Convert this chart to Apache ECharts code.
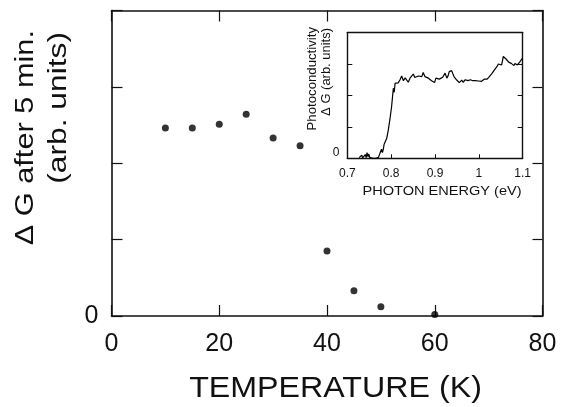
<!DOCTYPE html>
<html>
<head>
<meta charset="utf-8">
<script src="https://cdn.jsdelivr.net/npm/echarts@6/dist/echarts.min.js"></script>
<style>
html,body{margin:0;padding:0;background:#fff;}
#c{width:562px;height:407px;}
</style>
</head>
<body>
<div id="c"></div>
<script>
// Main plot data
const temperature = [10, 15, 20, 25, 30, 35, 40, 45, 50, 60];
const deltaG = [2.46, 2.46, 2.51, 2.64, 2.33, 2.23, 0.85, 0.33, 0.12, 0.02];
const tempTicks = [0, 20, 40, 60, 80];

// Inset data
const photonEnergy = [0.727,0.730,0.733,0.735,0.738,0.741,0.743,0.745,0.747,0.749,0.751,0.753,0.755,0.758,0.765,0.771,0.7745,0.778,0.780,0.782,0.784,0.786,0.788,0.790,0.7935,0.797,0.801,0.805,0.807,0.809,0.8125,0.816,0.820,0.824,0.828,0.832,0.835,0.839,0.843,0.847,0.8505,0.854,0.858,0.862,0.866,0.870,0.873,0.877,0.881,0.885,0.889,0.892,0.896,0.899,0.902,0.906,0.910,0.914,0.9175,0.920,0.923,0.927,0.930,0.9325,0.938,0.941,0.9433,0.9495,0.952,0.9554,0.958,0.961,0.964,0.966,0.969,0.9723,0.975,0.978,0.981,0.9837,0.986,0.989,0.992,0.995,0.999,1.0026,1.006,1.010,1.013,1.016,1.019,1.0215,1.024,1.027,1.030,1.033,1.036,1.039,1.042,1.0444,1.048,1.052,1.0558,1.0596,1.062,1.065,1.068,1.071,1.074,1.077,1.080,1.0824,1.085,1.0877,1.091,1.094,1.097,1.099];
const photoconductivity = [0.02,0.00,0.10,0.01,0.03,0.12,0.02,0.18,0.05,0.14,0.03,0.09,0.01,0.00,0.00,0.03,0.16,0.29,0.18,0.28,0.45,0.42,0.50,0.64,0.90,1.22,1.64,2.23,2.10,2.39,2.44,2.40,2.49,2.62,2.47,2.56,2.55,2.42,2.55,2.50,2.68,2.57,2.58,2.62,2.65,2.60,2.73,2.60,2.62,2.55,2.60,2.47,2.44,2.41,2.55,2.50,2.52,2.48,2.58,2.54,2.71,2.55,2.63,2.76,2.79,2.68,2.60,2.49,2.45,2.41,2.47,2.49,2.42,2.41,2.50,2.55,2.47,2.44,2.50,2.55,2.47,2.44,2.47,2.49,2.46,2.47,2.45,2.49,2.52,2.58,2.52,2.55,2.60,2.65,2.70,2.76,2.82,2.87,2.93,3.00,3.04,2.97,3.24,3.18,3.16,3.11,3.06,3.00,3.02,2.97,2.95,3.02,2.99,2.97,3.03,3.08,3.12,3.18];
const energyTicks = ['0.7', '0.8', '0.9', '1', '1.1'];

const FONT = 'Liberation Sans, Arial, Helvetica, sans-serif';
const ink = '#111';

const chart = echarts.init(document.getElementById('c'), null, {renderer: 'canvas'});

function frameAxis(base) {
  return Object.assign({
    axisLine: {show: true, onZero: false, lineStyle: {color: ink, width: 1.6}},
    splitLine: {show: false}
  }, base);
}

const option = {
  backgroundColor: '#fff',
  animation: false,
  grid: [
    {left: 111.5, top: 10.5, width: 431, height: 305.5},
    {left: 347.3, top: 32.6, width: 175.4, height: 125.7}
  ],
  xAxis: [
    frameAxis({gridIndex: 0, type: 'value', min: 0, max: 80, interval: 20, position: 'bottom',
      axisTick: {show: true, inside: true, length: 11, lineStyle: {color: ink, width: 1.2}},
      axisLabel: {show: true, margin: 16, fontSize: 25, color: ink, fontFamily: FONT,
        formatter: v => tempTicks.includes(v) ? String(v) : ''}}),
    frameAxis({gridIndex: 0, type: 'value', min: 0, max: 80, interval: 20, position: 'top',
      axisTick: {show: true, inside: true, length: 11, lineStyle: {color: ink, width: 1.2}},
      axisLabel: {show: false}}),
    frameAxis({gridIndex: 1, type: 'value', min: 0.7, max: 1.1, interval: 0.1, position: 'bottom',
      axisLine: {show: true, onZero: false, lineStyle: {color: ink, width: 1.4}},
      axisTick: {show: true, inside: true, length: 4, lineStyle: {color: ink, width: 1}},
      axisLabel: {show: true, margin: 9, fontSize: 12, color: ink, fontFamily: FONT,
        formatter: v => { const s = String(+(+v).toFixed(1)); return energyTicks.includes(s) ? s : ''; }}}),
    frameAxis({gridIndex: 1, type: 'value', min: 0.7, max: 1.1, interval: 0.1, position: 'top',
      axisLine: {show: true, onZero: false, lineStyle: {color: ink, width: 1.4}},
      axisTick: {show: false}, axisLabel: {show: false}})
  ],
  yAxis: [
    frameAxis({gridIndex: 0, type: 'value', min: 0, max: 4, interval: 1, position: 'left',
      axisTick: {show: true, inside: true, length: 11, lineStyle: {color: ink, width: 1.2}},
      axisLabel: {show: true, margin: 13, fontSize: 25, color: ink, fontFamily: FONT,
        formatter: v => v === 0 ? '0' : ''}}),
    frameAxis({gridIndex: 0, type: 'value', min: 0, max: 4, interval: 1, position: 'right',
      axisTick: {show: true, inside: true, length: 10, lineStyle: {color: ink, width: 1.2}},
      axisLabel: {show: false}}),
    frameAxis({gridIndex: 1, type: 'value', min: 0, max: 4, interval: 1, position: 'left',
      axisLine: {show: true, onZero: false, lineStyle: {color: ink, width: 1.4}},
      axisTick: {show: true, inside: true, length: 5, lineStyle: {color: ink, width: 1}},
      axisLabel: {show: true, margin: 8, fontSize: 12, color: ink, fontFamily: FONT, verticalAlign: 'bottom',
        formatter: v => v === 0 ? '0' : ''}}),
    frameAxis({gridIndex: 1, type: 'value', min: 0, max: 4, interval: 1, position: 'right',
      axisLine: {show: true, onZero: false, lineStyle: {color: ink, width: 1.4}},
      axisTick: {show: true, inside: true, length: 5, lineStyle: {color: ink, width: 1}},
      axisLabel: {show: false}})
  ],
  series: [
    {type: 'scatter', xAxisIndex: 0, yAxisIndex: 0, symbol: 'circle', symbolSize: 7,
      itemStyle: {color: '#000'},
      data: temperature.map((t, i) => [t, deltaG[i]])},
    {type: 'line', xAxisIndex: 2, yAxisIndex: 2, showSymbol: false, symbol: 'none',
      lineStyle: {color: '#000', width: 1.2}, clip: true,
      data: photonEnergy.map((e, i) => [e, photoconductivity[i]])}
  ],
  graphic: [
    {type: 'text', x: 335.5, y: 389, scaleX: 1.11, style: {text: 'TEMPERATURE (K)', fontSize: 29, fontFamily: FONT, fill: ink, align: 'center', verticalAlign: 'middle'}},
    {type: 'text', x: 26, y: 30, rotation: Math.PI / 2, scaleX: 1.23, style: {text: 'Δ G after 5 min.', fontSize: 25, fontFamily: FONT, fill: ink, align: 'right', verticalAlign: 'middle'}},
    {type: 'text', x: 59, y: 32, rotation: Math.PI / 2, scaleX: 1.27, style: {text: '(arb. units)', fontSize: 25, fontFamily: FONT, fill: ink, align: 'right', verticalAlign: 'middle'}},
    {type: 'text', x: 313, y: 27, rotation: Math.PI / 2, scaleX: 1.1, style: {text: 'Photoconductivity', fontSize: 12, fontFamily: FONT, fill: ink, align: 'right', verticalAlign: 'middle'}},
    {type: 'text', x: 327, y: 28, rotation: Math.PI / 2, scaleX: 1.08, style: {text: 'Δ G (arb. units)', fontSize: 12, fontFamily: FONT, fill: ink, align: 'right', verticalAlign: 'middle'}},
    {type: 'text', x: 442, y: 191, scaleX: 1.12, style: {text: 'PHOTON ENERGY (eV)', fontSize: 13, fontFamily: FONT, fill: ink, align: 'center', verticalAlign: 'middle'}}
  ]
};
chart.setOption(option);
</script>
</body>
</html>
